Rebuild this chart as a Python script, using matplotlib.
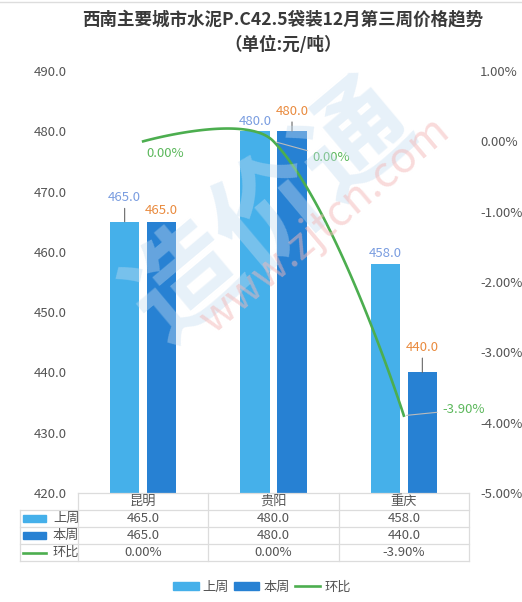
import numpy as np
import matplotlib.pyplot as plt
import matplotlib.ticker as mticker
from matplotlib.lines import Line2D
from matplotlib.patches import Rectangle, Patch

plt.rcParams['font.family'] = ['Noto Sans CJK SC', 'DejaVu Sans']

cities = ['昆明', '贵阳', '重庆']
last_week = [465.0, 480.0, 458.0]
this_week = [465.0, 480.0, 440.0]
change_pct = [0.00, 0.00, -3.90]
series_names = ['上周', '本周', '环比']

c_last = '#45b0ea'
c_this = '#2781d3'
c_line = '#4cae4f'
c_text = '#555555'

W, H = 522, 602


def box(l, t, r, b):
    return [l / W, 1 - b / H, (r - l) / W, (b - t) / H]


fig = plt.figure(figsize=(W / 100, H / 100), dpi=100)
fig.add_artist(Line2D([0, 1], [1 - 2 / H, 1 - 2 / H], color='#dddddd', lw=1))

fig.text(283 / W, 1 - 19 / H, '西南主要城市水泥P.C42.5袋装12月第三周价格趋势',
         ha='center', va='center', fontsize=12.6, weight='bold', color='#3a3a3a')
fig.text(283 / W, 1 - 45 / H, '（单位:元/吨）',
         ha='center', va='center', fontsize=12.6, weight='bold', color='#3a3a3a')

ax = fig.add_axes(box(78, 71, 469, 493))
ax2 = ax.twinx()
x = np.arange(len(cities))

bw = 0.225
ax.bar(x - 0.142, last_week, bw, color=c_last, zorder=2)
ax.bar(x + 0.142, this_week, bw, color=c_this, zorder=2)

ax.set_xlim(-0.5, 2.5)
ax.set_ylim(420, 490)
ax.set_yticks(np.arange(420, 491, 10))
ax.yaxis.set_major_formatter(mticker.FormatStrFormatter('%.1f'))
ax2.set_ylim(-5, 1)
ax2.set_yticks(np.arange(-5, 1.01, 1))
ax2.yaxis.set_major_formatter(mticker.FuncFormatter(lambda v, p: f'{v:.2f}%'))
for a in (ax, ax2):
    for s in a.spines.values():
        s.set_visible(False)
    a.tick_params(length=0, pad=8, labelsize=9.5, labelcolor=c_text)
ax.set_xticks([])

# bar value labels, some pushed up with a leader line
last_off = [24, 10, 10]
this_off = [11, 20, 25]
for i in range(len(cities)):
    for xs, v, off, col in ((x[i] - 0.142, last_week[i], last_off[i], '#7a9de0'),
                            (x[i] + 0.142, this_week[i], this_off[i], '#e98b3f')):
        ap = None
        if off > 15:
            ap = dict(arrowstyle='-', color='#666666', lw=0.8, shrinkA=1, shrinkB=0)
        ax.annotate(f'{v:.1f}', xy=(xs, v), xytext=(0, off), textcoords='offset pixels',
                    ha='center', va='center', fontsize=9.5, color=col, arrowprops=ap,
                    zorder=5)

# smoothed line through the change points (bezier, echarts style)
pts = ax2.transData.transform(np.column_stack([x, change_pct]))
smooth = 0.35
cp_in = pts.copy()
cp_out = pts.copy()
for i in range(1, len(pts) - 1):
    v = pts[i + 1] - pts[i - 1]
    d0 = np.hypot(*(pts[i] - pts[i - 1]))
    d1 = np.hypot(*(pts[i + 1] - pts[i]))
    cp_in[i] = pts[i] - v * smooth * d0 / (d0 + d1)
    cp_out[i] = pts[i] + v * smooth * d1 / (d0 + d1)
t = np.linspace(0, 1, 60)[:, None]
curve = []
for i in range(len(pts) - 1):
    b0, b1, b2, b3 = pts[i], cp_out[i], cp_in[i + 1], pts[i + 1]
    seg = ((1 - t) ** 3 * b0 + 3 * (1 - t) ** 2 * t * b1
           + 3 * (1 - t) * t ** 2 * b2 + t ** 3 * b3)
    curve.append(seg)
curve = ax2.transData.inverted().transform(np.vstack(curve))
ax2.plot(curve[:, 0], curve[:, 1], color=c_line, lw=1.9, zorder=4)

pct_off = [(22, -12), (58, -16), (60, 6)]
for i in range(len(cities)):
    ap = None
    if i > 0:
        ap = dict(arrowstyle='-', color='#bbbbbb', lw=0.8, shrinkA=2, shrinkB=2)
    ax2.annotate(f'{change_pct[i]:.2f}%', xy=(x[i], change_pct[i]), xytext=pct_off[i],
                 textcoords='offset pixels', ha='center', va='center', fontsize=9.5,
                 color='#5cb85c', arrowprops=ap, zorder=5)

# watermark
fig.text(272 / W, 1 - 212 / H, '造价通', ha='center', va='center', rotation=40,
         fontsize=80, weight='bold', color='#c4dcf0', alpha=0.4, zorder=10)
fig.text(325 / W, 1 - 225 / H, 'www.zjtcn.com', ha='center', va='center', rotation=40,
         fontsize=31, color='#f3b8b8', alpha=0.5, zorder=10)

# data table under the plot
tab = fig.add_axes(box(78, 493, 469, 561))
tab.set_xlim(-0.5, 2.5)
tab.set_ylim(4, 0)
tab.axis('off')
x_left = -0.5 - 58 / 130
gc = '#dcdcdc'
tab.plot([-0.5, 2.5], [0, 0], color=gc, lw=0.9, clip_on=False)
for r in range(1, 5):
    tab.plot([x_left, 2.5], [r, r], color=gc, lw=0.9, clip_on=False)
for cx in (-0.5, 0.5, 1.5, 2.5):
    tab.plot([cx, cx], [0, 4], color=gc, lw=0.9, clip_on=False)
tab.plot([x_left, x_left], [1, 4], color=gc, lw=0.9, clip_on=False)

for i, c in enumerate(cities):
    tab.text(x[i], 0.5, c, ha='center', va='center', fontsize=9.5, color=c_text)
    tab.text(x[i], 1.5, f'{last_week[i]:.1f}', ha='center', va='center', fontsize=9.5, color=c_text)
    tab.text(x[i], 2.5, f'{this_week[i]:.1f}', ha='center', va='center', fontsize=9.5, color=c_text)
    tab.text(x[i], 3.5, f'{change_pct[i]:.2f}%', ha='center', va='center', fontsize=9.5, color=c_text)

kx0, kx1 = -0.5 - 55 / 130, -0.5 - 32 / 130
for r, col in ((1, c_last), (2, c_this)):
    tab.add_patch(Rectangle((kx0, r + 0.32), kx1 - kx0, 0.36, color=col, clip_on=False))
tab.plot([kx0, kx1], [3.5, 3.5], color=c_line, lw=1.9, clip_on=False)
for r, name in enumerate(series_names):
    tab.text(-0.5 - 25 / 130, r + 1.5, name, ha='left', va='center', fontsize=9.5,
             color=c_text, clip_on=False)

handles = [Patch(color=c_last), Patch(color=c_this), Line2D([], [], color=c_line, lw=1.9)]
fig.legend(handles, series_names, loc='center', bbox_to_anchor=(262 / W, 1 - 587 / H),
           ncol=3, frameon=False, handlelength=1.9, handleheight=0.6,
           columnspacing=0.4, handletextpad=0.3, fontsize=9.5, labelcolor=c_text)

fig.savefig('out.png', dpi=100)
